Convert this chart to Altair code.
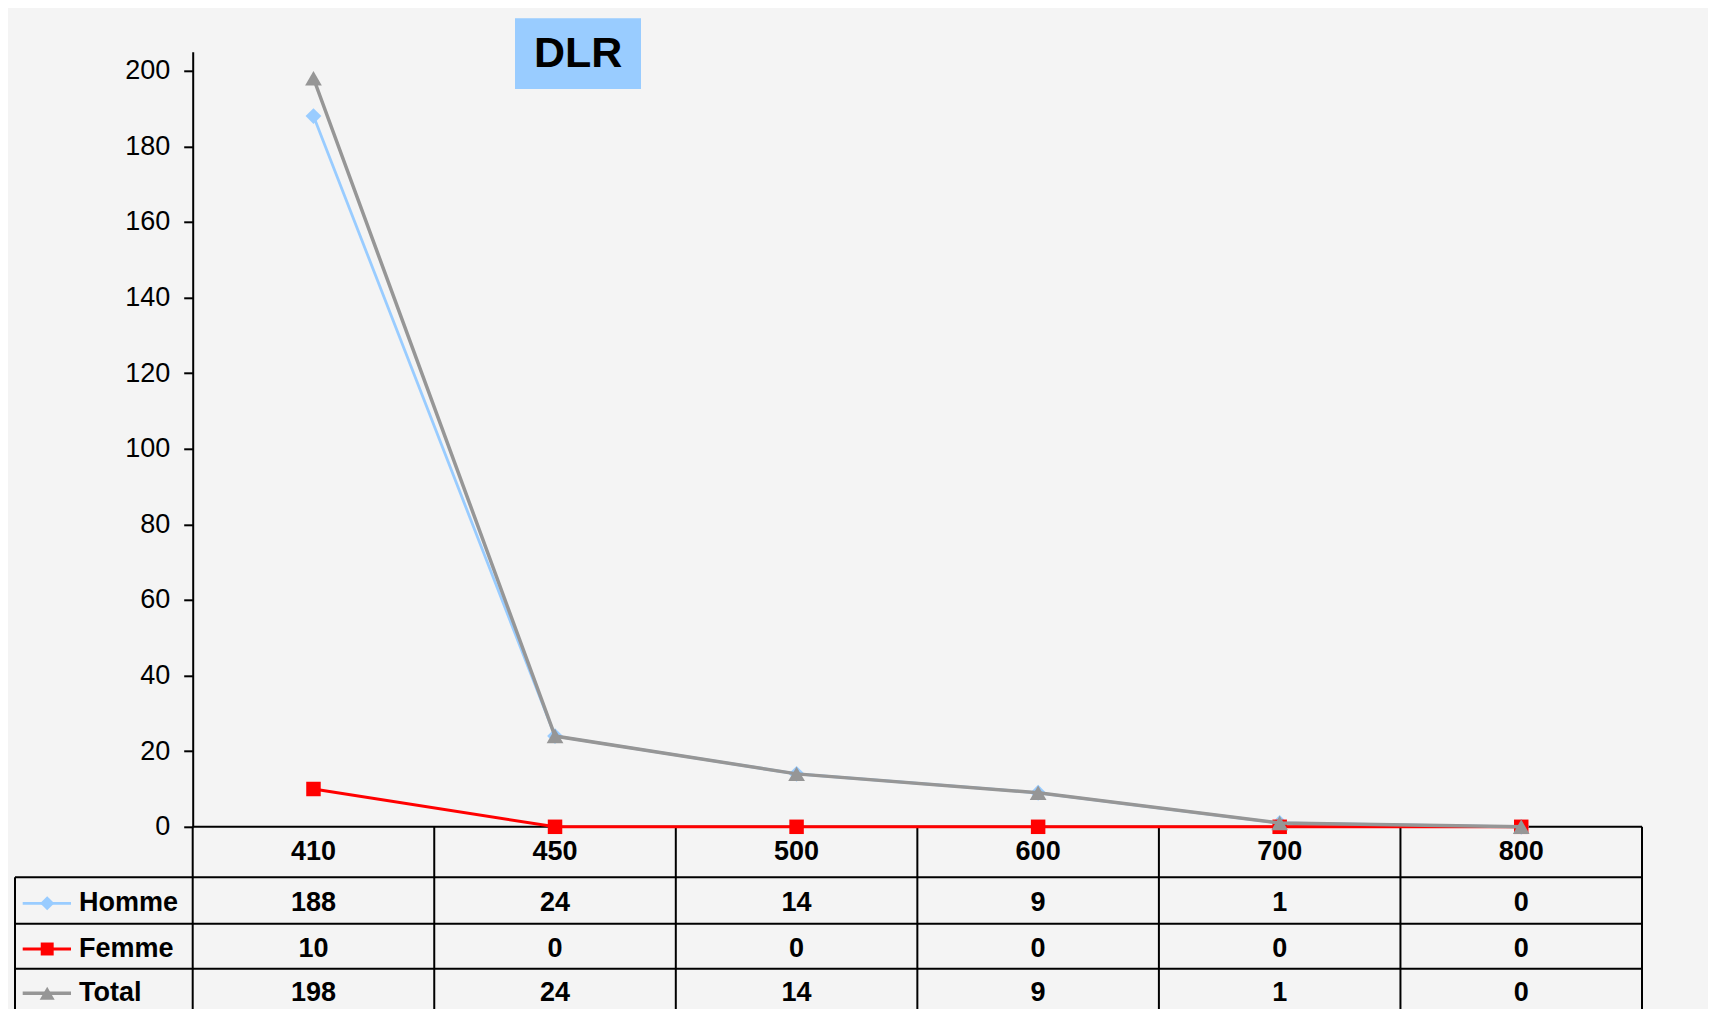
import altair as alt
import pandas as pd

# ---- data ----
categories = ["410", "450", "500", "600", "700", "800"]
homme = [188, 24, 14, 9, 1, 0]
femme = [10, 0, 0, 0, 0, 0]
total = [198, 24, 14, 9, 1, 0]
series_names = ["Homme", "Femme", "Total"]
y_ticks = list(range(0, 201, 20))
title_text = "DLR"

# ---- layout / style ----
W = 1449.3
H = 775
COLW = W / len(categories)
FONT = "Liberation Sans, Arial, sans-serif"
LINE_C = "black"

y_header, y_homme, y_femme, y_total = 799.9, 851.5, 897.2, 941.5
row_lines = [825.5, 871.9, 916.9]
TABLE_LEFT = -177.7
TABLE_BOTTOM = 990

styles = {
    "Homme": dict(color="#99CCFF", shape="diamond", size=250, sw=2.8, y=y_homme, vals=homme),
    "Femme": dict(color="#FF0000", shape="square", size=210, sw=3.0, y=y_femme, vals=femme),
    "Total": dict(color="#969696", shape="triangle-up", size=280, sw=3.5, y=y_total, vals=total),
}

xenc = alt.X("cat:N", scale=alt.Scale(type="point", domain=categories, padding=0.5), axis=None)
yscale = alt.Scale(domain=[0, 205], nice=False, zero=True)
yaxis = alt.Axis(values=y_ticks, grid=False, domainColor="black", domainWidth=2,
                 tickColor="black", tickWidth=2, tickSize=9, labelFontSize=27,
                 labelFont=FONT, labelColor="black", labelPadding=14, title=None,
                 labelOverlap=False)

dummy = pd.DataFrame({"d": [0]})
layers = []

# title box
layers.append(alt.Chart(dummy).mark_rect(color="#99CCFF").encode(
    x=alt.value(322.3), x2=alt.value(448.3), y=alt.value(-33.5), y2=alt.value(37.2)))
layers.append(alt.Chart(pd.DataFrame({"t": [title_text]})).mark_text(
    font=FONT, fontSize=43, fontWeight="bold", color="black", align="center", baseline="middle"
).encode(x=alt.value(385.5), y=alt.value(2), text="t:N"))

# table grid
def hrule(y, x1, x2, w=2):
    return alt.Chart(dummy).mark_rule(color=LINE_C, strokeWidth=w).encode(
        x=alt.value(x1), x2=alt.value(x2), y=alt.value(y))

def vrule(x, y1, y2, w=2):
    return alt.Chart(dummy).mark_rule(color=LINE_C, strokeWidth=w).encode(
        x=alt.value(x), y=alt.value(y1), y2=alt.value(y2))

layers.append(hrule(H, 0, W))
for yl in row_lines:
    layers.append(hrule(yl, TABLE_LEFT, W))
layers.append(vrule(0, H, TABLE_BOTTOM))
for k in range(1, len(categories) + 1):
    layers.append(vrule(k * COLW, H, TABLE_BOTTOM))
layers.append(vrule(TABLE_LEFT, row_lines[0], TABLE_BOTTOM))

# table header
hdr = pd.DataFrame({"cat": categories})
layers.append(alt.Chart(hdr).mark_text(
    font=FONT, fontSize=27, fontWeight="bold", color="black", align="center", baseline="middle"
).encode(x=xenc, y=alt.value(y_header), text="cat:N"))

# table rows + legend keys
for name in series_names:
    s = styles[name]
    df = pd.DataFrame({"cat": categories, "value": s["vals"]})
    layers.append(alt.Chart(df).mark_text(
        font=FONT, fontSize=27, fontWeight="bold", color="black", align="center", baseline="middle"
    ).encode(x=xenc, y=alt.value(s["y"]), text="value:Q"))
    layers.append(alt.Chart(pd.DataFrame({"label": [name]})).mark_text(
        font=FONT, fontSize=27, fontWeight="bold", color="black", align="left", baseline="middle"
    ).encode(x=alt.value(-113.7), y=alt.value(s["y"]), text="label:N"))
    layers.append(alt.Chart(dummy).mark_rule(color=s["color"], strokeWidth=s["sw"]).encode(
        x=alt.value(-170), x2=alt.value(-121.7), y=alt.value(s["y"])))
    layers.append(alt.Chart(dummy).mark_point(
        shape=s["shape"], filled=True, size=s["size"] * 0.8, color=s["color"], opacity=1
    ).encode(x=alt.value(-145.5), y=alt.value(s["y"])))

# series lines with markers
for name in series_names:
    s = styles[name]
    df = pd.DataFrame({"cat": categories, "value": s["vals"]})
    yenc = alt.Y("value:Q", scale=yscale, axis=yaxis)
    layers.append(alt.Chart(df).mark_line(color=s["color"], strokeWidth=s["sw"]).encode(x=xenc, y=yenc))
    layers.append(alt.Chart(df).mark_point(
        shape=s["shape"], filled=True, size=s["size"], color=s["color"], opacity=1
    ).encode(x=xenc, y=yenc))

chart = alt.layer(*layers).properties(
    width=W, height=H,
    autosize=alt.AutoSizeParams(type="none"),
    padding={"left": 184.7, "top": 43.8, "right": 66, "bottom": 182.2},
    background="#F4F4F4",
).configure_view(stroke=None)

chart.save("out.html", embed_options={"renderer": "svg", "actions": False})
